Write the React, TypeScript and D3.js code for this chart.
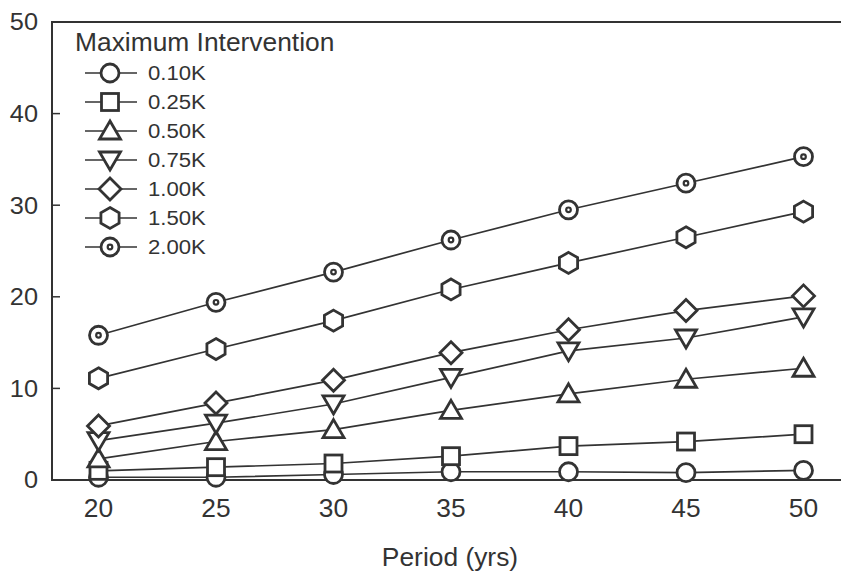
import React from "react";
import * as d3 from "d3";

const periods = [20, 25, 30, 35, 40, 45, 50];
const seriesNames = ["0.10K", "0.25K", "0.50K", "0.75K", "1.00K", "1.50K", "2.00K"];
const v010 = [0.3, 0.3, 0.6, 0.9, 0.9, 0.8, 1.05];
const v025 = [1.0, 1.4, 1.8, 2.6, 3.7, 4.2, 5.0];
const v050 = [2.3, 4.2, 5.5, 7.6, 9.4, 11.0, 12.2];
const v075 = [4.3, 6.2, 8.3, 11.2, 14.1, 15.5, 17.8];
const v100 = [5.9, 8.4, 10.9, 13.9, 16.4, 18.5, 20.1];
const v150 = [11.1, 14.3, 17.4, 20.8, 23.7, 26.5, 29.3];
const v200 = [15.8, 19.4, 22.7, 26.2, 29.5, 32.4, 35.3];
const allValues = [v010, v025, v050, v075, v100, v150, v200];
const markers = ["circle", "square", "triangleUp", "triangleDown", "diamond", "hexagon", "dotCircle"];
const yTicks = [0, 10, 20, 30, 40, 50];
const xTicks = [20, 25, 30, 35, 40, 45, 50];

const INK = "#333";
const FONT = "'Liberation Sans', Arial, sans-serif";
const SX = 1.055;

function Marker({ type, x, y }: { type: string; x: number; y: number }) {
  const common = { fill: "#fff", stroke: INK, strokeWidth: 2.8 };
  if (type === "circle") return <circle cx={x} cy={y} r={9} {...common} />;
  if (type === "dotCircle")
    return (
      <g>
        <circle cx={x} cy={y} r={9} {...common} />
        <circle cx={x} cy={y} r={2.3} fill="#fff" stroke={INK} strokeWidth={2.2} />
      </g>
    );
  if (type === "square") return <rect x={x - 8.5} y={y - 8.5} width={17} height={17} {...common} />;
  if (type === "triangleUp")
    return <path d={`M${x},${y - 10}L${x + 10.5},${y + 8}L${x - 10.5},${y + 8}Z`} {...common} />;
  if (type === "triangleDown")
    return <path d={`M${x},${y + 10}L${x + 10.5},${y - 8}L${x - 10.5},${y - 8}Z`} {...common} />;
  if (type === "diamond")
    return <path d={`M${x},${y - 11}L${x + 11},${y}L${x},${y + 11}L${x - 11},${y}Z`} {...common} />;
  if (type === "hexagon") {
    const r = 10.5;
    const pts = d3.range(6).map((i) => {
      const a = (Math.PI / 3) * i - Math.PI / 2;
      return [x + r * Math.cos(a), y + r * Math.sin(a)];
    });
    return <path d={"M" + pts.map((p) => p.join(",")).join("L") + "Z"} {...common} />;
  }
  return null;
}

function T({ x, y, size, anchor, children, dy }: any) {
  return (
    <text
      transform={`translate(${x},${y}) scale(${SX},1)`}
      dy={dy}
      textAnchor={anchor || "start"}
      fontSize={size}
      fill={INK}
    >
      {children}
    </text>
  );
}

export default function App() {
  const width = 841;
  const height = 571;
  const left = 52;
  const right = 841;
  const top = 22;
  const bottom = 480;

  const x = d3.scaleLinear().domain([20, 50]).range([98.5, 803.5]);
  const y = d3.scaleLinear().domain([0, 50]).range([bottom, top]);
  const line = d3
    .line<number>()
    .x((_, i) => x(periods[i]))
    .y((d) => y(d));

  return (
    <svg
      width={width}
      height={height}
      style={{ position: "absolute", left: 0, top: 0, background: "#fff" }}
      fontFamily={FONT}
    >
      <rect width={width} height={height} fill="#fff" />
      <line x1={left} x2={right} y1={top} y2={top} stroke={INK} strokeWidth={2} />
      <line x1={left} x2={right} y1={bottom} y2={bottom} stroke={INK} strokeWidth={2} />
      <line x1={left} x2={left} y1={top - 1} y2={bottom + 1} stroke={INK} strokeWidth={2} />
      {yTicks.map((t) => (
        <g key={t}>
          <line x1={left} x2={left + 8} y1={y(t)} y2={y(t)} stroke={INK} strokeWidth={1.5} />
          <T x={38} y={y(t)} dy="0.35em" anchor="end" size={24}>
            {t}
          </T>
        </g>
      ))}
      {xTicks.map((t) => (
        <T key={t} x={x(t)} y={517} anchor="middle" size={25}>
          {t}
        </T>
      ))}
      <T x={450} y={566} anchor="middle" size={25}>
        Period (yrs)
      </T>

      {allValues.map((vals, si) => (
        <path key={"l" + si} d={line(vals) || ""} fill="none" stroke={INK} strokeWidth={1.7} />
      ))}
      {allValues.map((vals, si) =>
        vals.map((v, i) => <Marker key={si + "-" + i} type={markers[si]} x={x(periods[i])} y={y(v)} />)
      )}

      <T x={75} y={51} size={25}>
        Maximum Intervention
      </T>
      {seriesNames.map((name, i) => {
        const cy = 73 + i * 29;
        return (
          <g key={name}>
            <line x1={85} x2={137} y1={cy} y2={cy} stroke={INK} strokeWidth={1.7} />
            <Marker type={markers[i]} x={110} y={cy} />
            <T x={148} y={cy} dy="0.35em" size={21}>
              {name}
            </T>
          </g>
        );
      })}
    </svg>
  );
}
